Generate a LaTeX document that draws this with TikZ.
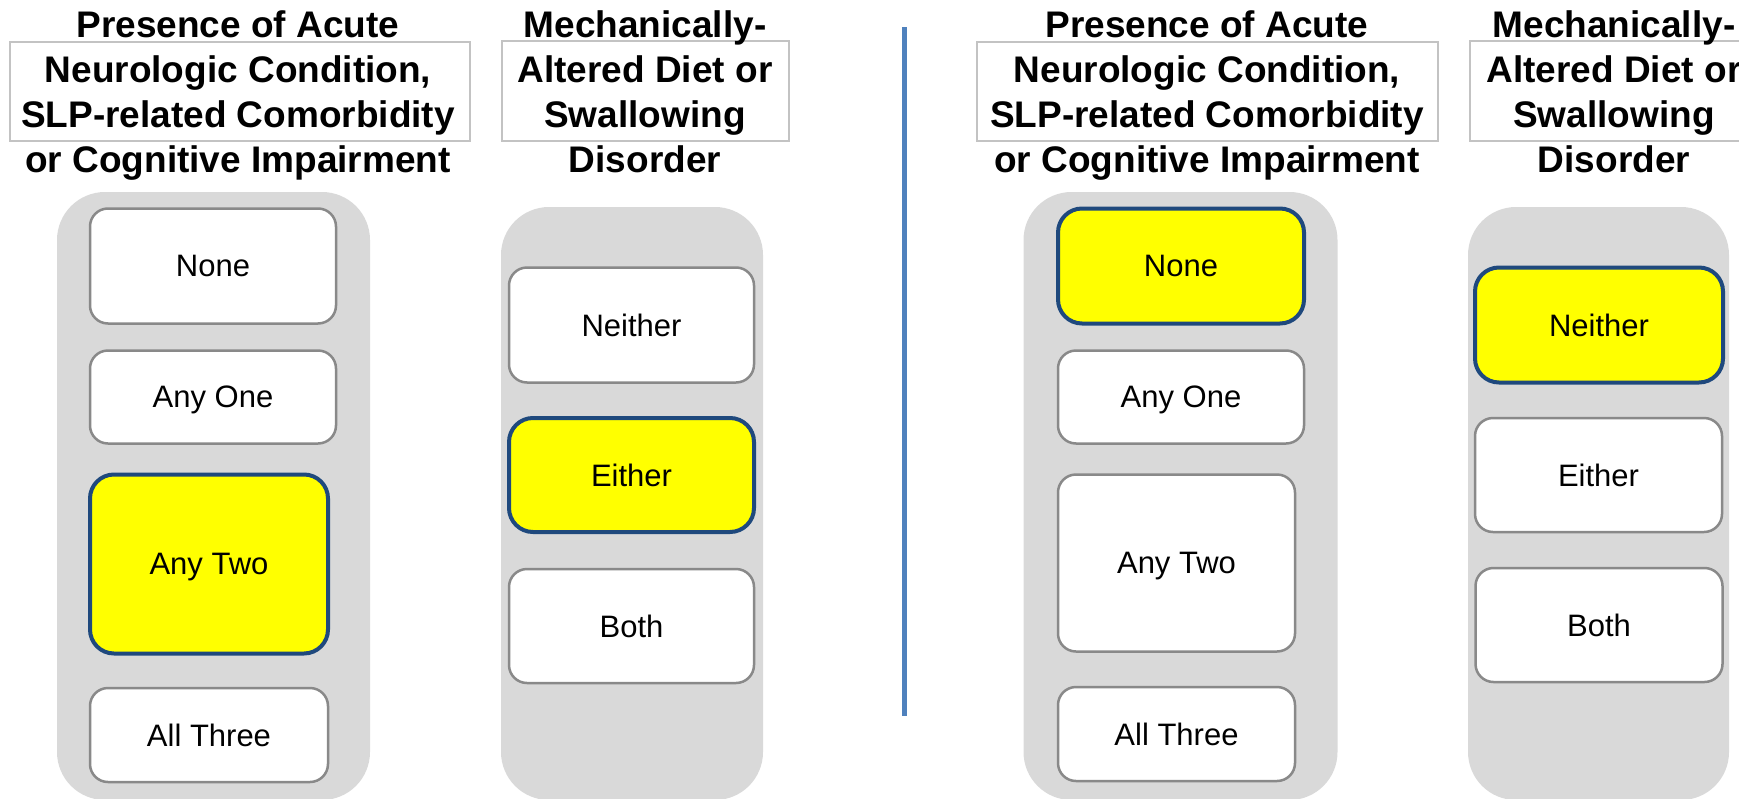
\documentclass[tikz,border=0pt]{standalone}
\usepackage{fontspec}
\setmainfont{Liberation Sans}
\usepackage{tikz}
\usetikzlibrary{positioning}
\definecolor{PanelGray}{RGB}{217,217,217}
\definecolor{BorderGray}{RGB}{137,137,137}
\definecolor{FrameGray}{RGB}{195,195,195}
\definecolor{MarkYellow}{RGB}{255,255,0}
\definecolor{MarkBlue}{RGB}{31,73,125}
\definecolor{SplitBlue}{RGB}{79,129,189}

\begin{document}
\begin{tikzpicture}[x=1pt, y=-1pt,
    panelbg/.style={fill=PanelGray, rounded corners=48pt, inner sep=0pt},
    optbox/.style={draw=BorderGray, line width=2.5pt, fill=white, rounded corners=18pt, inner sep=0pt, text depth=0pt, font=\fontsize{31}{36}\selectfont},
    markbox/.style={optbox, draw=MarkBlue, line width=4pt, fill=MarkYellow, rounded corners=24pt},
    hdframe/.style={draw=FrameGray, line width=1.2pt, inner sep=0pt},
    headtxt/.style={align=center, inner sep=0pt, font=\fontsize{37}{45.1}\bfseries\selectfont}]
\useasboundingbox (0,0) rectangle (1739,798);
\clip (0,0) rectangle (1739,798);

% left half: headers
\node[hdframe, minimum width=460pt, minimum height=99pt] (f1) at (240,91.5) {};
\node[headtxt] (h1) at (238,95.5) {Presence of Acute\\Neurologic Condition,\\SLP-related Comorbidity\\or Cognitive Impairment};
\node[hdframe, minimum width=287pt, minimum height=100pt] (f2) at (645.5,91) {};
\node[headtxt] (h2) at (645,91.6) {Mechanically-\\Altered Diet or\\Swallowing\\Disorder};

% left half: options
\node[panelbg, minimum width=313pt, minimum height=608pt] (p1) at (213.5,496) {};
\node[optbox, minimum width=246pt, minimum height=115pt] (none1) at (213,266) {None};
\node[optbox, minimum width=246pt, minimum height=93pt] (one1) at (213,397) {Any One};
\node[markbox, minimum width=238pt, minimum height=179pt] (two1) at (209,564) {Any Two};
\node[optbox, minimum width=238pt, minimum height=94pt] (three1) at (209,735) {All Three};

\node[panelbg, minimum width=262pt, minimum height=593pt] (p2) at (632,503.5) {};
\node[optbox, minimum width=245pt, minimum height=115pt] (neither1) at (631.5,325) {Neither};
\node[markbox, minimum width=245pt, minimum height=114pt] (either1) at (631.5,475) {Either};
\node[optbox, minimum width=245pt, minimum height=114pt] (both1) at (631.5,626) {Both};

% divider
\coordinate (s1) at (904,27);
\coordinate (s2) at (904,716);
\draw[SplitBlue, line width=5pt] (s1) -- (s2);

% right half: headers
\node[hdframe, minimum width=461pt, minimum height=99pt] (f3) at (1207.5,91.5) {};
\node[headtxt] (h3) at (1207,95.5) {Presence of Acute\\Neurologic Condition,\\SLP-related Comorbidity\\or Cognitive Impairment};
\node[hdframe, minimum width=287pt, minimum height=100pt] (f4) at (1613.5,91) {};
\node[headtxt] (h4) at (1614,91.6) {Mechanically-\\Altered Diet or\\Swallowing\\Disorder};

% right half: options
\node[panelbg, minimum width=314pt, minimum height=608pt] (p3) at (1180.5,496) {};
\node[markbox, minimum width=246pt, minimum height=115pt] (none2) at (1181,266) {None};
\node[optbox, minimum width=246pt, minimum height=93pt] (one2) at (1181,397) {Any One};
\node[optbox, minimum width=237pt, minimum height=177pt] (two2) at (1176.5,563) {Any Two};
\node[optbox, minimum width=237pt, minimum height=94pt] (three2) at (1176.5,734) {All Three};

\node[panelbg, minimum width=261pt, minimum height=593pt] (p4) at (1598.5,503.5) {};
\node[markbox, minimum width=248pt, minimum height=115pt] (neither2) at (1599,325) {Neither};
\node[optbox, minimum width=247pt, minimum height=114pt] (either2) at (1598.5,475) {Either};
\node[optbox, minimum width=247pt, minimum height=114pt] (both2) at (1599,625) {Both};
\end{tikzpicture}
\end{document}
